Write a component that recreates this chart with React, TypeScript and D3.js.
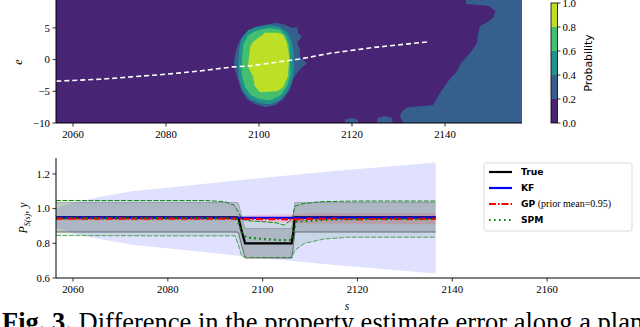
import React from 'react';
import * as d3 from 'd3';

const W = 640;
const H = 327;

// ---- top panel: probability of s/e (filled contours) ----
const topXTicks = [2060, 2080, 2100, 2120, 2140];
const topYTicks = [-10, -5, 0, 5];
const levels = [0, 0.2, 0.4, 0.6, 0.8, 1.0];

// contour outlines, [s, e]
const rightRegion = [
  [2144.5, 9.7], [2144.5, 8.75], [2147.1, 8.6], [2149.5, 8.44], [2150.8, 7.66], [2150.5, 6.72],
  [2149.2, 5.94], [2147.5, 5.31], [2147.1, 4.06], [2146.9, 2.66], [2145.6, 1.25], [2144.7, 0.47],
  [2143.4, -0.63], [2142.6, -1.88], [2141.1, -2.97], [2140.2, -3.91], [2138.9, -5.31], [2138.1, -6.25],
  [2137.4, -7.19], [2134.6, -7.34], [2132.0, -7.5], [2130.8, -8.13], [2130.3, -8.91], [2131.2, -10.3],
  [2160, -10.3], [2160, 9.7],
];
const spotA = [[2118.3, -10.3], [2118.6, -9.4], [2120.0, -9.2], [2121.2, -9.5], [2121.4, -10.3]];
const spotB = [[2125.3, -10.3], [2125.5, -9.2], [2127.0, -8.9], [2128.6, -9.2], [2128.8, -10.3]];
const blob02 = [
  [2101.3, 5.5], [2103.9, 5.8], [2105.6, 5.5], [2107.1, 5.0], [2108.2, 5.2], [2108.4, 4.2],
  [2109.2, 3.6], [2108.2, 2.7], [2108.8, 1.6], [2108.8, 0.5], [2110.3, -0.6], [2109.2, -1.25],
  [2108.4, -1.9], [2107.3, -3.1], [2106.7, -4.7], [2105.2, -6.25], [2103.4, -7.2], [2101.3, -7.5],
  [2099.1, -7.0], [2097.4, -6.25], [2096.1, -4.7], [2095.5, -3.1], [2094.8, -1.6], [2094.6, -0.3],
  [2095.1, 1.6], [2095.9, 3.1], [2097.4, 4.4], [2099.1, 5.2],
];
const blob04 = [
  [2099.8, 5.16], [2102.4, 5.47], [2104.5, 5.16], [2106.2, 4.22], [2107.1, 2.81], [2107.5, 0.78],
  [2107.5, -1.56], [2107.1, -3.44], [2106.0, -5.16], [2104.5, -6.41], [2102.4, -7.03], [2100.2, -6.88],
  [2098.1, -6.25], [2096.6, -5.0], [2095.7, -3.13], [2095.5, -0.78], [2095.7, 1.56], [2096.3, 3.44],
  [2097.8, 4.69],
];
const blob06 = [
  [2100.2, 4.69], [2102.4, 5.0], [2104.5, 4.69], [2105.8, 3.75], [2106.5, 2.34], [2106.7, 0],
  [2106.7, -2.34], [2106.0, -4.22], [2104.7, -5.63], [2102.4, -6.41], [2100.2, -6.25], [2098.3, -5.63],
  [2097.0, -4.38], [2096.3, -2.34], [2096.3, 0], [2096.6, 2.34], [2097.6, 3.75], [2098.9, 4.38],
];
const blob08 = [
  [2098.1, 2.03], [2097.6, -1.09], [2098.7, -2.66], [2099.1, -4.22], [2100.2, -5.16], [2103.9, -5.0],
  [2105.2, -4.38], [2106.2, -2.66], [2106.5, 0.47], [2106.0, 2.66], [2105.2, 3.91], [2104.1, 4.22],
  [2101.3, 4.22], [2100.2, 3.59], [2098.7, 2.81],
];

// planned path (white dashed)
const pathS = [2056.4, 2065.8, 2080.2, 2087.3, 2094.4, 2098, 2108.8, 2115.3, 2124.5, 2136.3];
const pathE = [-3.4, -3.1, -2.3, -1.8, -1.15, -1.0, 0.1, 1.0, 1.9, 2.8];

// ---- bottom panel ----
const botXTicks = [2060, 2080, 2100, 2120, 2140, 2160];
const botYTicks = [0.6, 0.8, 1.0, 1.2];

const fanS = [2056.4, 2058, 2060, 2065, 2072.7, 2080, 2093.8, 2114, 2136.5];
const fanLo = [0.891, 0.874, 0.858, 0.828, 0.791, 0.771, 0.731, 0.678, 0.626];
const fanHi = [1.001, 1.018, 1.034, 1.064, 1.101, 1.121, 1.161, 1.214, 1.266];

const trueS = [2056.4, 2094.6, 2094.9, 2095.6, 2096.3, 2106.1, 2106.4, 2106.8, 2136.5];
const trueV = [0.95, 0.95, 0.946, 0.869, 0.8, 0.8, 0.85, 0.95, 0.95];
const bandLo = [0.865, 0.865, 0.861, 0.784, 0.715, 0.715, 0.765, 0.865, 0.865];
const bandHi = [1.035, 1.035, 1.031, 0.954, 0.885, 0.885, 0.935, 1.035, 1.035];

const kfS = [2056.4, 2095, 2107, 2136.5];
const kfV = [0.948, 0.947, 0.947, 0.948];

const gpS = [2056.4, 2094, 2100, 2106, 2110, 2120, 2136.5];
const gpV = [0.942, 0.942, 0.94, 0.938, 0.941, 0.94, 0.941];
const gpBandS = [2056.4, 2094, 2100, 2110, 2136.5];
const gpBandLo = [0.932, 0.932, 0.922, 0.915, 0.91];
const gpBandHi = [0.958, 0.958, 0.965, 0.972, 0.975];

const spmS = [2056.4, 2094.3, 2095, 2095.6, 2096.5, 2098, 2100, 2102, 2104, 2106, 2106.5, 2107.2, 2110, 2115, 2120, 2136.5];
const spmV = [0.945, 0.945, 0.91, 0.86, 0.835, 0.83, 0.825, 0.822, 0.818, 0.82, 0.87, 0.925, 0.93, 0.937, 0.94, 0.94];
const spmHiS = [2056.4, 2088, 2092, 2094, 2095, 2095.6, 2097, 2100, 2103, 2104.5, 2105.5, 2106.3, 2106.8, 2108.5, 2112, 2120, 2136.5];
const spmHiV = [1.047, 1.047, 1.04, 1.02, 0.975, 0.94, 0.93, 0.925, 0.918, 0.905, 0.925, 0.95, 1.015, 1.028, 1.04, 1.044, 1.044];
const spmLoS = [2056.4, 2080, 2094.2, 2095, 2095.6, 2097, 2106.2, 2106.8, 2108.8, 2113, 2118, 2136.5];
const spmLoV = [0.845, 0.843, 0.843, 0.78, 0.725, 0.718, 0.718, 0.76, 0.8, 0.825, 0.835, 0.835];

const legendItems = ['True', 'KF', 'GP', 'SPM'];

const SERIF = '"Liberation Serif", "DejaVu Serif", serif';
const SANS = '"DejaVu Sans", sans-serif';

const zip = (xs: number[], ys: number[]) => xs.map((x, i) => [x, ys[i]]);
const zip3 = (xs: number[], a: number[], b: number[]) => xs.map((x, i) => [x, a[i], b[i]]);

const App = () => {
  const tx = d3.scaleLinear().domain([2056.34, 2156.56]).range([56, 522]);
  const ty = d3.scaleLinear().domain([-10, 9.4]).range([123, 0]);
  const cb = d3.scaleLinear().domain([0, 1]).range([123, 3]);
  const bx = d3.scaleLinear().domain([2056.41, 2179.6]).range([56, 640]);
  const by = d3.scaleLinear().domain([0.6, 1.292]).range([278, 158]);

  const layerColor = (i: number) => d3.interpolateViridis((levels[i] + levels[i + 1]) / 2);
  const poly = d3.line<number[]>().x(d => tx(d[0])).y(d => ty(d[1])).curve(d3.curveLinearClosed);
  const topLine = d3.line<number[]>().x(d => tx(d[0])).y(d => ty(d[1]));
  const bLine = d3.line<number[]>().x(d => bx(d[0])).y(d => by(d[1]));
  const bPoly = d3.line<number[]>().x(d => bx(d[0])).y(d => by(d[1])).curve(d3.curveLinearClosed);
  const bArea = d3.area<number[]>().x(d => bx(d[0])).y0(d => by(d[1])).y1(d => by(d[2]));

  const spmBand = zip(spmHiS, spmHiV).concat(zip(spmLoS, spmLoV).reverse());
  const fmtTop = (v: number) => (v < 0 ? '\u2212' + Math.abs(v) : String(v));

  const legendY = (i: number) => 172 + i * 16;

  return (
    <svg width={W} height={H} style={{ position: 'absolute', left: 0, top: 0, background: '#fff' }}>
      <defs>
        <clipPath id="topclip">
          <rect x={56} y={0} width={466} height={123} />
        </clipPath>
        <clipPath id="botclip">
          <rect x={56} y={158} width={584} height={120} />
        </clipPath>
      </defs>

      {/* top heat map */}
      <g clipPath="url(#topclip)">
        <rect x={56} y={0} width={466} height={123} fill={layerColor(0)} />
        <path d={poly(rightRegion) || ''} fill={layerColor(1)} />
        <path d={poly(spotA) || ''} fill={layerColor(1)} />
        <path d={poly(spotB) || ''} fill={layerColor(1)} />
        <path d={poly(blob02) || ''} fill={layerColor(1)} />
        <path d={poly(blob04) || ''} fill={layerColor(2)} />
        <path d={poly(blob06) || ''} fill={layerColor(3)} />
        <path d={poly(blob08) || ''} fill={layerColor(4)} />
        <path d={topLine(zip(pathS, pathE)) || ''} fill="none" stroke="#fff" strokeWidth={1.6} strokeDasharray="5,3" />
      </g>
      <line x1={56} x2={56} y1={0} y2={123} stroke="#000" strokeWidth={1} />
      <line x1={56} x2={522} y1={123} y2={123} stroke="#000" strokeWidth={1} />
      {topXTicks.map(t => (
        <g key={t} transform={`translate(${tx(t)},123)`}>
          <line y2={3.5} stroke="#000" strokeWidth={0.8} />
          <text y={15} textAnchor="middle" fontFamily={SERIF} fontSize={10.8}>{t}</text>
        </g>
      ))}
      {topYTicks.map(t => (
        <g key={t} transform={`translate(56,${ty(t)})`}>
          <line x2={-3.5} stroke="#000" strokeWidth={0.8} />
          <text x={-6} dy="0.35em" textAnchor="end" fontFamily={SERIF} fontSize={10.8}>{fmtTop(t)}</text>
        </g>
      ))}
      <text transform="translate(22,62) rotate(-90)" textAnchor="middle" fontFamily={SERIF} fontStyle="italic" fontSize={12}>e</text>

      {/* colorbar */}
      {levels.slice(0, -1).map((l, i) => (
        <rect key={l} x={551} y={cb(levels[i + 1])} width={6.5} height={cb(l) - cb(levels[i + 1])} fill={layerColor(i)} />
      ))}
      <rect x={551} y={3} width={6.5} height={120} fill="none" stroke="#000" strokeWidth={0.8} />
      {levels.map(l => (
        <g key={l} transform={`translate(557.5,${cb(l)})`}>
          <line x2={3} stroke="#000" strokeWidth={0.8} />
          <text x={5} dy="0.35em" fontFamily={SERIF} fontSize={10.8}>{l.toFixed(1)}</text>
        </g>
      ))}
      <text transform="translate(592,63) rotate(-90)" textAnchor="middle" fontFamily={SANS} fontSize={10.8}>Probability</text>

      {/* bottom panel */}
      <g clipPath="url(#botclip)">
        <path d={bArea(zip3(fanS, fanLo, fanHi)) || ''} fill="#0000ff" fillOpacity={0.12} />
        <path d={bPoly(spmBand) || ''} fill="#008000" fillOpacity={0.1} />
        <path d={bArea(zip3(trueS, bandLo, bandHi)) || ''} fill="#707a80" fillOpacity={0.33} />
        <path d={bArea(zip3(gpBandS, gpBandLo, gpBandHi)) || ''} fill="#ff0000" fillOpacity={0.13} />
        <path d={bLine(zip(trueS, bandLo)) || ''} fill="none" stroke="#222" strokeWidth={0.7} strokeOpacity={0.8} />
        <path d={bLine(zip(trueS, bandHi)) || ''} fill="none" stroke="#444" strokeWidth={0.6} strokeOpacity={0.5} />
        <path d={bLine(zip(spmHiS, spmHiV)) || ''} fill="none" stroke="#008000" strokeWidth={0.9} strokeDasharray="5,1.5" />
        <path d={bLine(zip(spmLoS, spmLoV)) || ''} fill="none" stroke="#008000" strokeWidth={0.9} strokeOpacity={0.7} strokeDasharray="5,1.5" />
        <path d={bLine(zip(trueS, trueV)) || ''} fill="none" stroke="#000" strokeWidth={2.2} />
        <path d={bLine(zip(kfS, kfV)) || ''} fill="none" stroke="#0000ff" strokeWidth={2.2} />
        <path d={bLine(zip(gpS, gpV)) || ''} fill="none" stroke="#ff0000" strokeWidth={2.2} strokeDasharray="7,2,1.5,2" />
        <path d={bLine(zip(spmS, spmV)) || ''} fill="none" stroke="#008000" strokeWidth={2.2} strokeDasharray="1.6,3.4" />
      </g>
      <line x1={56} x2={56} y1={158} y2={278} stroke="#000" strokeWidth={1} />
      <line x1={56} x2={640} y1={278} y2={278} stroke="#000" strokeWidth={1} />
      {botXTicks.map(t => (
        <g key={t} transform={`translate(${bx(t)},278)`}>
          <line y2={3.5} stroke="#000" strokeWidth={0.8} />
          <text y={15} textAnchor="middle" fontFamily={SERIF} fontSize={10.8}>{t}</text>
        </g>
      ))}
      {botYTicks.map(t => (
        <g key={t} transform={`translate(56,${by(t)})`}>
          <line x2={-3.5} stroke="#000" strokeWidth={0.8} />
          <text x={-6} dy="0.35em" textAnchor="end" fontFamily={SERIF} fontSize={10.8}>{t.toFixed(1)}</text>
        </g>
      ))}
      <text transform="translate(27,218) rotate(-90)" textAnchor="middle" fontFamily={SERIF} fontStyle="italic" fontSize={12}>
        P<tspan fontSize={8} dy={3}>S(s)</tspan><tspan dy={-3}>, y</tspan>
      </text>
      <text x={347} y={310} textAnchor="middle" fontFamily={SERIF} fontStyle="italic" fontSize={11.5}>s</text>

      {/* legend */}
      <rect x={484} y={163} width={148} height={68} rx={2.5} fill="#fff" fillOpacity={0.85} stroke="#d0d0d0" strokeWidth={0.8} />
      {legendItems.map((name, i) => {
        const y = legendY(i);
        const stroke = ['#000', '#0000ff', '#ff0000', '#008000'][i];
        const dash = [undefined, undefined, '7,2,1.5,2', '1.6,3.4'][i];
        return (
          <g key={name}>
            <line x1={489} x2={512} y1={y} y2={y} stroke={stroke} strokeWidth={2.2} strokeDasharray={dash} />
            <text x={521} y={y} dy="0.36em" fontFamily={SANS} fontWeight="bold" fontSize={9.2}>
              {name}
              {name === 'GP' && (
                <tspan fontFamily={SERIF} fontWeight="normal" fontSize={10}>{' (prior mean=0.95)'}</tspan>
              )}
            </text>
          </g>
        );
      })}

      {/* caption */}
      <text x={2} y={331} fontFamily={SERIF} fontSize={26.5}>
        <tspan fontWeight="bold">Fig. 3.</tspan>
        {' Difference in the property estimate error along a planned path'}
      </text>
    </svg>
  );
};

export default App;
